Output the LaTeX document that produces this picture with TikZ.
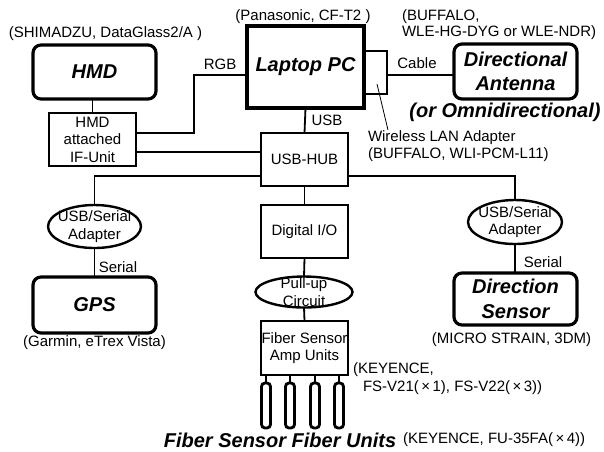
\documentclass[tikz,border=0pt]{standalone}
\usepackage{fontspec}
\setmainfont{Liberation Sans}
\usetikzlibrary{shapes.geometric}
\begin{document}
\begin{tikzpicture}[x=1pt,y=-1pt,
  every node/.style={inner sep=0pt, outer sep=0pt},
  conn/.style={line width=1.8pt},
  plainbox/.style={draw, line width=2.4pt, minimum width=87pt, minimum height=53pt, align=center, font=\fontsize{15}{17.5}\selectfont},
  devbox/.style={draw, line width=3.2pt, rounded corners=8pt, minimum width=123pt, align=center, font=\fontsize{20}{23.5}\selectfont\bfseries\itshape},
  ovalbox/.style={draw, ellipse, line width=2.4pt},
  ovaltext/.style={align=center, font=\fontsize{15}{17.5}\selectfont},
  lbl/.style={font=\fontsize{15}{17}\selectfont},
  big/.style={font=\fontsize{20}{23}\selectfont\bfseries\itshape},
  fiber/.style={draw, line width=2.8pt, rounded corners=3.5pt, minimum width=9pt, minimum height=45pt}
]
\useasboundingbox[fill=white] (0,0) rectangle (604,451);

% boxes
\node[devbox, minimum height=54pt] (hmd) at (94.5,72) {HMD};
\node[plainbox] (ifu) at (92.5,139.5) {HMD\\attached\\IF-Unit};
\node[draw, line width=4pt, minimum width=117pt, minimum height=82pt, font=\fontsize{20}{23}\selectfont\bfseries\itshape] (laptop) at (305.5,67) {Laptop PC};
\node[draw, line width=2.4pt, minimum width=23pt, minimum height=43pt] (wlan) at (375.5,72.5) {};
\node[devbox, minimum height=55pt] (ant) at (515.5,71.5) {Directional\\Antenna};
\node[plainbox] (hub) at (304.5,159.5) {USB-HUB};
\node[plainbox] (dio) at (304.5,231.5) {Digital I/O};
\node[ovalbox, minimum width=97pt, minimum height=31pt] (pull) at (304,292) {};
\node[ovaltext] at (pull) {Pull-up\\Circuit};
\node[plainbox, minimum height=54pt] (amp) at (304.5,348) {Fiber Sensor\\Amp Units};
\node[ovalbox, minimum width=93pt, minimum height=43pt] (usl) at (94.5,226.5) {};
\node[ovaltext] at (usl) {USB/Serial\\Adapter};
\node[ovalbox, minimum width=94pt, minimum height=44pt] (usr) at (515,222) {};
\node[ovaltext] at (usr) {USB/Serial\\Adapter};
\node[devbox, minimum height=56pt] (gps) at (94.5,305) {GPS};
\node[devbox, minimum height=52pt, font=\fontsize{20}{24.5}\selectfont\bfseries\itshape] (dir) at (515.5,299) {Direction\\Sensor};
\foreach \i/\x in {1/266,2/290,3/315,4/339}
  \node[fiber] (f\i) at (\x,405.5) {};

% connectors
\draw[conn] (ifu.north) -- (ifu.north |- hmd.south);
\draw[conn] (ifu.east |- 0,133) -| (194,75) -- (laptop.west |- 0,75);
\draw[conn] (wlan.east |- 0,75) -- (ant.west |- 0,75);
\draw[conn] (laptop.south) -- (hub.north);
\draw[conn] (ifu.east |- 0,152) -- (hub.west |- 0,152);
\draw[conn] (hub.west |- 0,176) -| (usl.north);
\draw[conn] (hub.east |- 0,176) -| (usr.north);
\draw[conn] (usl.south) -- (gps.north -| usl.south);
\draw[conn] (usr.south) -- (dir.north -| usr.south);
\draw[conn] (hub.south) -- (dio.north);
\draw[conn] (dio.south) -- (pull.north);
\draw[conn] (pull.south) -- (amp.north);
\foreach \i in {1,2,3,4}
  \draw[conn] (f\i.north) -- (f\i.north |- amp.south);

% pointer for wireless adapter
\coordinate (wp) at (377,84);
\coordinate (wq) at (388,130);
\draw[line width=0.8pt] (wp) -- (wq);

% labels
\node[lbl] (lshim) at (105.5,34) {(SHIMADZU, DataGlass2/A )};
\node[lbl] (lpan) at (303,17) {(Panasonic, CF-T2 )};
\node[lbl, anchor=west, align=left, font=\fontsize{15}{16}\selectfont] (lbuf) at (402,25) {(BUFFALO,\\WLE-HG-DYG or WLE-NDR)};
\node[lbl] (lrgb) at (220,64) {RGB};
\node[lbl] (lcable) at (417,63) {Cable};
\node[lbl] (lusb) at (327,120) {USB};
\node[big] (lomni) at (505,112) {(or Omnidirectional)};
\node[lbl, anchor=west, align=left] (lwlan) at (368,146.5) {Wireless LAN Adapter\\(BUFFALO, WLI-PCM-L11)};
\node[lbl] (lser1) at (118,267) {Serial};
\node[lbl] (lser2) at (543,262) {Serial};
\node[lbl] (lgar) at (94.5,343) {(Garmin, eTrex Vista)};
\node[lbl] (lmic) at (511.5,340) {(MICRO STRAIN, 3DM)};
\node[lbl, anchor=west, align=left, font=\fontsize{15}{18}\selectfont] (lkey1) at (353,379) {(KEYENCE,\\\hspace*{10pt}FS-V21(\,×\,1), FS-V22(\,×\,3))};
\node[big] (lfiber) at (280,440) {Fiber Sensor Fiber Units};
\node[lbl, anchor=west] (lkey2) at (403,440) {(KEYENCE, FU-35FA(\,×\,4))};
\end{tikzpicture}
\end{document}
